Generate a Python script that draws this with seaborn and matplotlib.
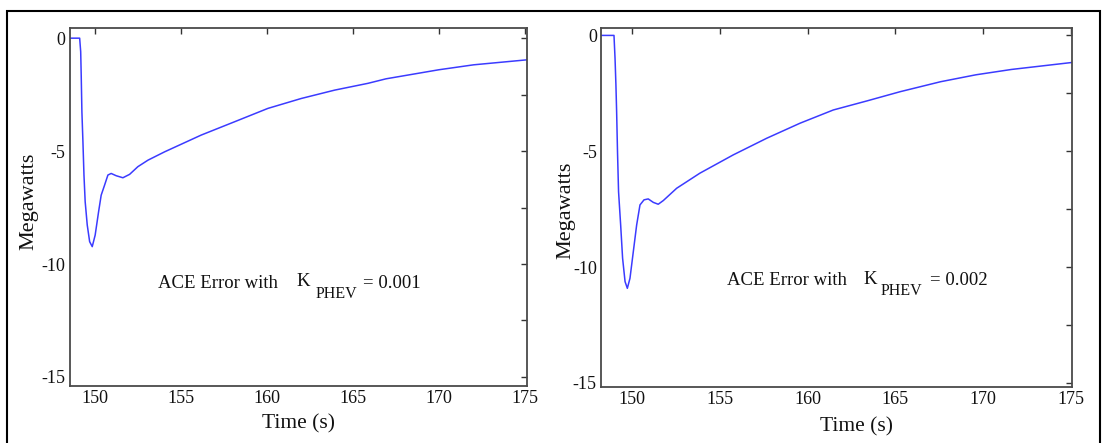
import matplotlib
matplotlib.use("Agg")
import matplotlib.pyplot as plt
import pandas as pd
import seaborn as sns
from matplotlib.patches import Rectangle

# ACE error response for K_PHEV = 0.001
time_k1 = [148.54, 149.13, 149.19, 149.22, 149.26, 149.32, 149.38, 149.45, 149.57,
           149.71, 149.86, 150.03, 150.23, 150.38, 150.58, 150.77, 150.96, 151.25,
           151.64, 152.03, 152.51, 153.10, 154.07, 156.19, 158.13, 160.06, 162.00,
           163.94, 165.87, 166.92, 169.98, 172.01, 175.09]
ace_k1 = [0.0, 0.0, -0.60, -1.64, -3.26, -4.59, -6.06, -7.24, -8.27,
          -9.01, -9.23, -8.72, -7.68, -6.95, -6.50, -6.06, -5.99, -6.09,
          -6.18, -6.03, -5.69, -5.40, -5.03, -4.29, -3.70, -3.11, -2.67,
          -2.30, -2.00, -1.80, -1.40, -1.18, -0.96]

# ACE error response for K_PHEV = 0.002
time_k2 = [148.23, 148.97, 149.03, 149.08, 149.12, 149.17, 149.23, 149.35, 149.46,
           149.60, 149.73, 149.88, 150.07, 150.26, 150.45, 150.68, 150.92, 151.21,
           151.49, 151.78, 152.54, 153.86, 155.76, 157.67, 159.57, 161.46, 163.37,
           165.27, 167.57, 169.59, 171.61, 175.04]
ace_k2 = [0.0, 0.0, -1.00, -2.14, -3.29, -5.02, -6.75, -8.19, -9.62,
          -10.63, -10.92, -10.49, -9.34, -8.19, -7.32, -7.10, -7.06, -7.21,
          -7.29, -7.13, -6.60, -5.95, -5.16, -4.44, -3.79, -3.22, -2.83,
          -2.43, -2.00, -1.70, -1.47, -1.17]

gains = ["0.001", "0.002"]
x_ticks = [150, 155, 160, 165, 170, 175]
y_ticks = [0, -5, -10, -15]
y_minor_ticks = [-2.5, -7.5, -12.5]

sns.set_theme(style="white")
plt.rcParams["font.family"] = ["Liberation Serif", "DejaVu Serif"]
plt.rcParams["axes.unicode_minus"] = False

W, H = 1105, 443
fig = plt.figure(figsize=(W / 100, H / 100), dpi=100)


def px_axes(x0, y0, x1, y1):
    return fig.add_axes([x0 / W, 1 - y1 / H, (x1 - x0) / W, (y1 - y0) / H])


ax_left = px_axes(69.5, 28, 526.7, 386)
ax_right = px_axes(601, 28, 1071.7, 386.5)

panels = [
    (ax_left, time_k1, ace_k1, (148.54, 175.09), (-15.4, 0.45),
     dict(ace=(0.194, 0.274), k=(0.497, 0.278), sub=(0.538, 0.246), eq=(0.642, 0.274)),
     (-0.068, 0.517), (0.5, -0.078)),
    (ax_right, time_k2, ace_k2, (148.23, 175.04), (-15.16, 0.32),
     dict(ace=(0.268, 0.283), k=(0.557, 0.287), sub=(0.595, 0.255), eq=(0.700, 0.283)),
     (-0.055, 0.492), (0.542, -0.086)),
]

for (ax, t, v, xlim, ylim, pos, ylab_xy, xlab_xy), gain in zip(panels, gains):
    df = pd.DataFrame({"Time": t, "ACE": v})
    sns.lineplot(data=df, x="Time", y="ACE", ax=ax, color="#3b3bff",
                 linewidth=1.1, sort=False)
    ax.set_xlim(*xlim)
    ax.set_ylim(*ylim)
    ax.set_xticks(x_ticks)
    ax.set_yticks(y_ticks)
    ax.set_yticks(y_minor_ticks, minor=True)
    ax.set_xticklabels([str(x) for x in x_ticks])
    ax.set_yticklabels([str(y) for y in y_ticks])
    ax.tick_params(which="both", direction="in", top=True, right=True,
                   length=4, width=1.0, color="#333333", labelcolor="#111111",
                   labelsize=13, pad=3)
    for sp in ax.spines.values():
        sp.set_color("#4a4a4a")
        sp.set_linewidth(1.3)
    ax.set_facecolor("white")
    ax.grid(False)

    ax.set_xlabel("Time (s)", fontsize=15.5, color="#111111")
    ax.set_ylabel("Megawatts", fontsize=16, color="#111111")
    ax.xaxis.set_label_coords(*xlab_xy)
    ax.yaxis.set_label_coords(*ylab_xy)

    tkw = dict(transform=ax.transAxes, va="baseline", ha="left", color="#111111")
    ax.text(*pos["ace"], "ACE Error with", fontsize=13.5, **tkw)
    ax.text(*pos["k"], "K", fontsize=13.5, **tkw)
    ax.text(*pos["sub"], "PHEV", fontsize=11.5, **tkw)
    ax.text(*pos["eq"], "= " + gain, fontsize=13.5, **tkw)

# outer frame around both panels
fig.add_artist(Rectangle((7 / W, -0.05), (1100 - 7) / W, (1 - 11 / H) + 0.05,
                         transform=fig.transFigure, fill=False,
                         edgecolor="black", linewidth=1.5))

fig.savefig("out.png", dpi=100, facecolor="white")
